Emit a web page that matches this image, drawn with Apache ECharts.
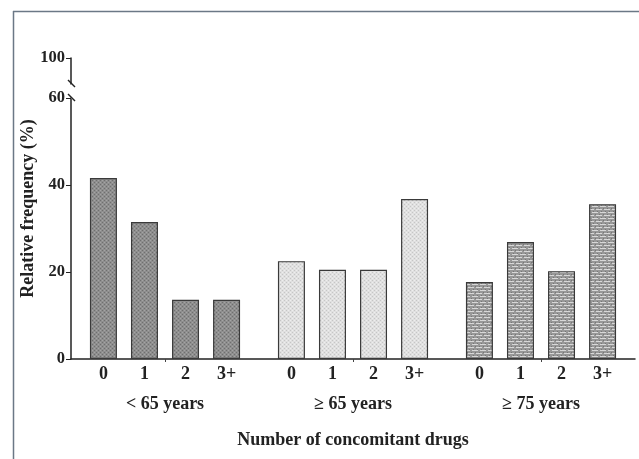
<!DOCTYPE html>
<html><head><meta charset="utf-8">
<script src="https://cdn.jsdelivr.net/npm/echarts@6/dist/echarts.min.js"></script>
<style>html,body{margin:0;padding:0;background:#fff}#c{width:639px;height:459px}</style>
</head><body><div id="c"></div>
<script>
// ---- data ----
const groups = ['< 65 years', '\u2265 65 years', '\u2265 75 years'];
const drugCounts = ['0', '1', '2', '3+'];
const freq0 = [41.6, 22.5, 17.7];
const freq1 = [31.5, 20.5, 26.9];
const freq2 = [13.6, 20.5, 20.2];
const freq3 = [13.6, 36.8, 35.6];
const yTickValues = [0, 20, 40, 60, 100];
const breakStart = 60, breakEnd = 94;

// ---- patterns ----
function makePattern(w, h, base, draw) {
  const c = document.createElement('canvas');
  c.width = w; c.height = h;
  const g = c.getContext('2d');
  g.fillStyle = base; g.fillRect(0, 0, w, h);
  draw(g);
  return { image: c, repeat: 'repeat' };
}
const patDark = makePattern(4, 4, '#8e8e8e', g => {
  g.fillStyle = '#6f6f6f'; g.fillRect(0, 0, 1, 1); g.fillRect(2, 2, 1, 1);
  g.fillStyle = '#a4a4a4'; g.fillRect(2, 0, 1, 1); g.fillRect(0, 2, 1, 1);
});
const patLight = makePattern(4, 4, '#e0e0e0', g => {
  g.fillStyle = '#c6c6c6'; g.fillRect(0, 0, 1, 1); g.fillRect(2, 2, 1, 1);
  g.fillStyle = '#eeeeee'; g.fillRect(2, 0, 1, 1); g.fillRect(0, 2, 1, 1);
});
const patBrick = makePattern(8, 6, '#989898', g => {
  g.fillStyle = '#767676'; g.fillRect(1, 1, 1, 1); g.fillRect(5, 1, 1, 1); g.fillRect(3, 4, 1, 1); g.fillRect(7, 4, 1, 1);
  g.fillStyle = '#d8d8d8'; g.fillRect(0, 2, 6, 1); g.fillRect(4, 5, 8, 1); g.fillRect(0, 5, 2, 1);
});
const groupFills = [patDark, patLight, patBrick];

const serif = 'Liberation Serif';
const seriesValues = [freq0, freq1, freq2, freq3];

const series = drugCounts.map((name, si) => ({
  name: name,
  type: 'bar',
  barWidth: 27,
  barGap: '52%',
  data: seriesValues[si].map((v, gi) => ({ value: v, itemStyle: { color: groupFills[gi] } })),
  itemStyle: { borderColor: '#3a3a3a', borderWidth: 1.2 },
  label: {
    show: true, position: 'bottom', distance: 6,
    formatter: () => name,
    fontFamily: serif, fontWeight: 'bold', fontSize: 18, color: '#222'
  },
  silent: true
}));

const frame = [
  { type: 'line', shape: { x1: 13.5, y1: 11, x2: 13.5, y2: 459 }, style: { stroke: '#6b7886', lineWidth: 1.5 }, silent: true },
  { type: 'line', shape: { x1: 13, y1: 11.5, x2: 639, y2: 11.5 }, style: { stroke: '#6b7886', lineWidth: 1.5 }, silent: true }
];

const chart = echarts.init(document.getElementById('c'), null, { renderer: 'canvas' });
chart.setOption({
  animation: false,
  backgroundColor: '#fff',
  grid: { left: 71, top: 58, width: 564, height: 301 },
  xAxis: {
    type: 'category',
    data: groups,
    axisLine: { lineStyle: { color: '#222', width: 1.5 } },
    axisTick: { show: true, alignWithLabel: true, length: 3, lineStyle: { color: '#444' } },
    axisLabel: { margin: 36, fontFamily: serif, fontWeight: 'bold', fontSize: 18, color: '#222' },
    name: 'Number of concomitant drugs',
    nameLocation: 'middle',
    nameGap: 72,
    nameTextStyle: { fontFamily: serif, fontWeight: 'bold', fontSize: 18, color: '#222' }
  },
  yAxis: {
    type: 'value',
    min: 0, max: 100, interval: 20,
    breaks: [{ start: breakStart, end: breakEnd, gap: 3.2 }],
    breakArea: {
      show: true,
      itemStyle: { color: '#fff', borderColor: '#fff', borderWidth: 0, opacity: 1 },
      zigzagAmplitude: 0,
      expandOnClick: false
    },
    axisLine: { show: true, lineStyle: { color: '#222', width: 1.5 } },
    axisTick: { show: true, length: 5, customValues: yTickValues, lineStyle: { color: '#222' } },
    splitLine: { show: false },
    axisLabel: {
      margin: 6, fontFamily: serif, fontWeight: 'bold', fontSize: 16.5, color: '#222',
      customValues: yTickValues
    },
    name: 'Relative frequency (%)',
    nameLocation: 'middle',
    nameGap: 34,
    nameMoveOverlap: false,
    nameTextStyle: { fontFamily: serif, fontWeight: 'bold', fontSize: 18, color: '#222' }
  },
  graphic: frame,
  series: series
});

// break marks on the y axis line, positioned from the axis scale
const axisX = 71;
const yLow = chart.convertToPixel({ yAxisIndex: 0 }, breakStart);
const yHigh = chart.convertToPixel({ yAxisIndex: 0 }, breakEnd);
const marks = [];
if (isFinite(yLow) && isFinite(yHigh)) {
  [yHigh, yLow].forEach(y => {
    marks.push({ type: 'line', shape: { x1: axisX - 3, y1: y - 4, x2: axisX + 4, y2: y + 3 },
      style: { stroke: '#222', lineWidth: 1.4 }, silent: true, z: 100 });
  });
}
chart.setOption({ graphic: frame.concat(marks) }, { replaceMerge: ['graphic'] });
</script></body></html>
